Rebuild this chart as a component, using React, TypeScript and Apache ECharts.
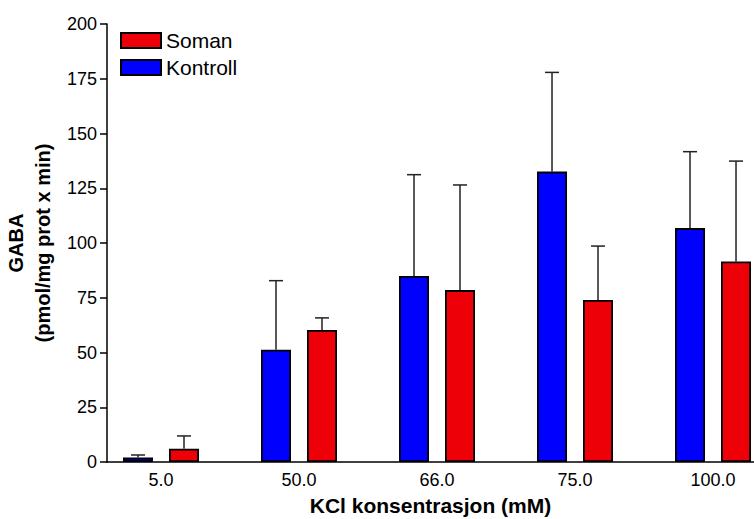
import React, { useEffect, useRef } from "react";
import * as echarts from "echarts";

const categories = ["5.0", "50.0", "66.0", "75.0", "100.0"];
const kontrollMean = [2.0, 51.3, 84.9, 132.6, 106.8];
const kontrollUpper = [3.2, 82.8, 131.2, 177.9, 141.7];
const somanMean = [6.1, 60.3, 78.5, 74.0, 91.6];
const somanUpper = [11.9, 65.8, 126.5, 98.6, 137.4];
const yTicks = [0, 25, 50, 75, 100, 125, 150, 175, 200];

const FONT = "'Liberation Sans', Arial, sans-serif";

export default function App() {
  const ref = useRef<HTMLDivElement>(null);
  useEffect(() => {
    if (!ref.current) return;
    const chart = echarts.init(ref.current, null, { renderer: "svg" });
    const barOffset = 23;
    const errSeries = (name: string, mean: number[], upper: number[], off: number) => ({
      type: "custom",
      name: name + "_err",
      z: 5,
      data: mean.map((m, i) => [i, m, upper[i]]),
      renderItem: (params: any, api: any) => {
        const x = api.value(0);
        const top = api.coord([x, api.value(1)]);
        const up = api.coord([x, api.value(2)]);
        const cx = top[0] + off;
        return {
          type: "group",
          children: [
            {
              type: "line",
              shape: { x1: cx, y1: top[1], x2: cx, y2: up[1] },
              style: { stroke: "#222", lineWidth: 1.5 },
            },
            {
              type: "line",
              shape: { x1: cx - 7, y1: up[1], x2: cx + 7, y2: up[1] },
              style: { stroke: "#222", lineWidth: 1.5 },
            },
          ],
        };
      },
    });
    chart.setOption({
      animation: false,
      textStyle: { fontFamily: FONT },
      grid: { left: 107, right: 0, top: 24, bottom: 57, outerBoundsMode: "none", containLabel: false },
      legend: {
        data: ["Soman", "Kontroll"],
        orient: "vertical",
        left: 120,
        top: 30,
        padding: 0,
        icon: "rect",
        itemWidth: 40,
        itemHeight: 15,
        itemGap: 6,
        textStyle: { fontFamily: FONT, fontSize: 21, color: "#000" },
      },
      xAxis: {
        type: "value",
        min: -0.3913,
        max: 4.297,
        name: "KCl konsentrasjon (mM)",
        nameLocation: "middle",
        nameGap: 32,
        nameTextStyle: { fontFamily: FONT, fontSize: 21, fontWeight: "bold", color: "#000", lineHeight: 22 },
        axisLine: { show: true, onZero: false, lineStyle: { color: "#000", width: 1.5 } },
        axisTick: { show: false },
        splitLine: { show: false },
        axisLabel: {
          customValues: [0, 1, 2, 3, 4],
          formatter: (v: number) => categories[Math.round(v)] ?? "",
          fontFamily: FONT,
          fontSize: 18,
          color: "#000",
          margin: 9,
        },
      },
      yAxis: {
        type: "value",
        min: 0,
        max: 200,
        interval: 25,
        name: "GABA\n(pmol/mg prot x min)",
        nameLocation: "middle",
        nameRotate: 90,
        nameGap: 47,
        nameTextStyle: { fontFamily: FONT, fontSize: 20, fontWeight: "bold", color: "#000", lineHeight: 27 },
        axisLine: { show: true, onZero: false, lineStyle: { color: "#000", width: 1.5 } },
        axisTick: { show: true, length: 7, lineStyle: { color: "#000", width: 1.5 } },
        splitLine: { show: false },
        axisLabel: {
          fontFamily: FONT,
          fontSize: 18,
          color: "#000",
          margin: 10,
          formatter: (v: number) => (yTicks.includes(v) ? String(v) : ""),
        },
      },
      series: [
        {
          type: "bar",
          name: "Kontroll",
          data: kontrollMean.map((v, i) => [i, v]),
          barWidth: 30,
          barGap: "53.3%",
          itemStyle: { color: "#0000ff", borderColor: "#000", borderWidth: 1.8 },
        },
        {
          type: "bar",
          name: "Soman",
          data: somanMean.map((v, i) => [i, v]),
          barWidth: 30,
          barGap: "53.3%",
          itemStyle: { color: "#ee0009", borderColor: "#000", borderWidth: 1.8 },
        },
        errSeries("Kontroll", kontrollMean, kontrollUpper, -barOffset),
        errSeries("Soman", somanMean, somanUpper, barOffset),
      ],
    });
    return () => chart.dispose();
  }, []);
  return (
    <div
      ref={ref}
      style={{ position: "absolute", left: 0, top: 0, width: 754, height: 519 }}
    />
  );
}
